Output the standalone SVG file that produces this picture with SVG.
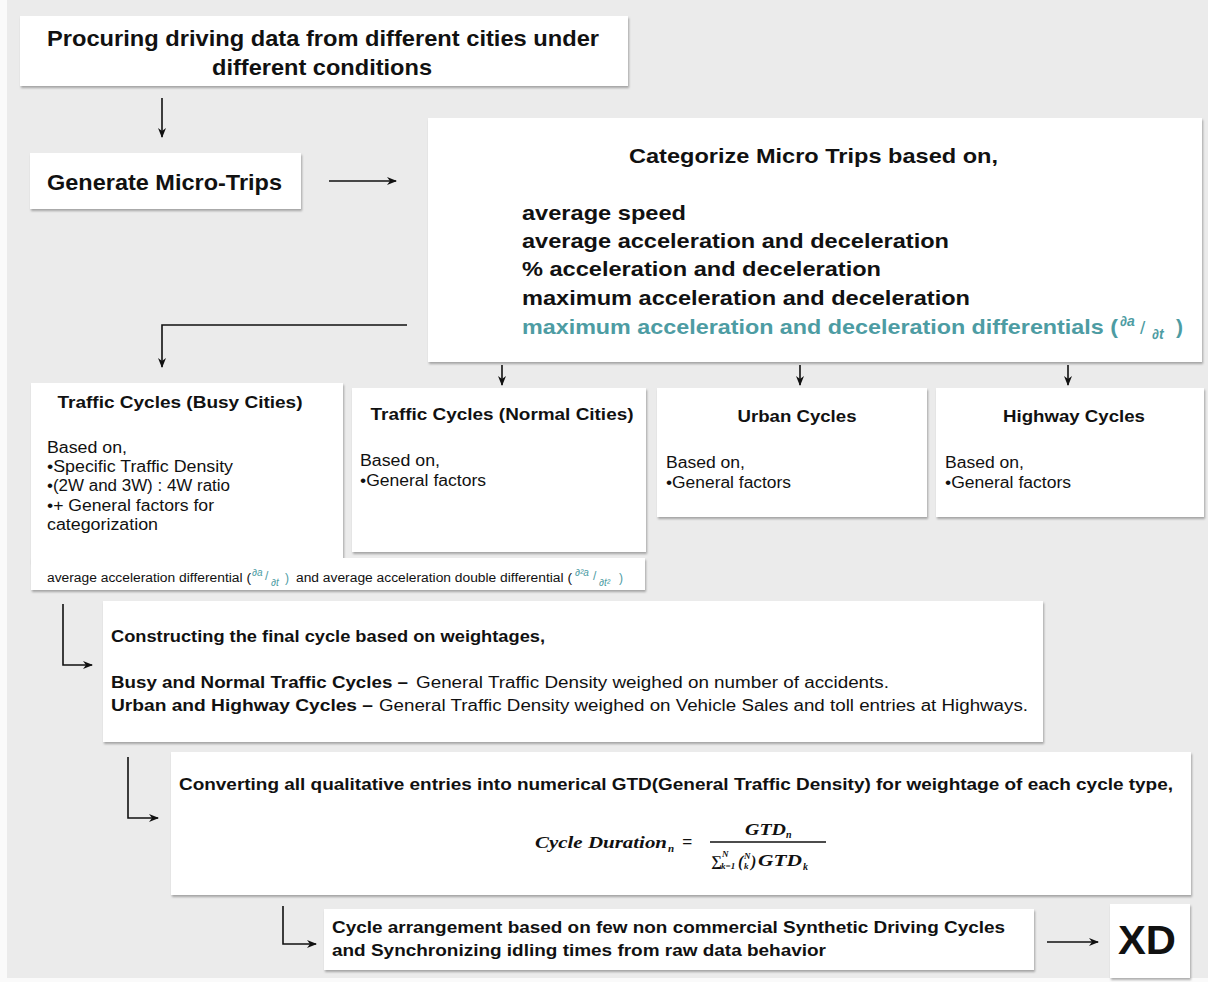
<svg xmlns="http://www.w3.org/2000/svg" width="1208" height="982" viewBox="0 0 1208 982">
<defs>
<filter id="sh" x="-5%" y="-5%" width="110%" height="115%">
<feDropShadow dx="1" dy="2" stdDeviation="1" flood-color="#000" flood-opacity="0.3"/>
</filter>
<marker id="ah" viewBox="0 0 10 10" refX="9" refY="5" markerWidth="10" markerHeight="10" markerUnits="userSpaceOnUse" orient="auto">
<path d="M0,1 L10,5 L0,9 L3,5 z" fill="#111"/>
</marker>
<style>
.box{fill:#fff;filter:url(#sh)}
.t{font-family:"Liberation Sans",Arial,sans-serif;fill:#111}
.b{font-weight:bold}
.i{font-style:italic}
.teal{fill:#4d9ca3}
.m{font-family:"Liberation Serif","DejaVu Serif",serif;font-style:italic;font-weight:bold;fill:#111}
.c{fill:none;stroke:#111;stroke-width:1.6;marker-end:url(#ah)}
</style>
</defs>
<rect x="0" y="0" width="1208" height="982" fill="#fafafa"/>
<rect x="7" y="0" width="1201" height="978" fill="#ebebeb"/>

<g id="n-procure">
<rect class="box" x="20" y="16" width="608" height="70"/>
<text class="t b" x="323" y="46" font-size="22" text-anchor="middle" textLength="552" lengthAdjust="spacingAndGlyphs">Procuring driving data from different cities under</text>
<text class="t b" x="322" y="75" font-size="22" text-anchor="middle" textLength="220" lengthAdjust="spacingAndGlyphs">different conditions</text>
</g>

<g id="n-generate">
<rect class="box" x="30" y="153" width="271" height="56"/>
<text class="t b" x="47" y="190" font-size="22" textLength="235" lengthAdjust="spacingAndGlyphs">Generate Micro-Trips</text>
</g>

<g id="n-categorize">
<rect class="box" x="428" y="118" width="774" height="244"/>
<text class="t b" x="629" y="163" font-size="21" textLength="369" lengthAdjust="spacingAndGlyphs">Categorize Micro Trips based on,</text>
<text class="t b" x="522" y="220" font-size="21" textLength="164" lengthAdjust="spacingAndGlyphs">average speed</text>
<text class="t b" x="522" y="248" font-size="21" textLength="427" lengthAdjust="spacingAndGlyphs">average acceleration and deceleration</text>
<text class="t b" x="522" y="276" font-size="21" textLength="359" lengthAdjust="spacingAndGlyphs">% acceleration and deceleration</text>
<text class="t b" x="522" y="305" font-size="21" textLength="448" lengthAdjust="spacingAndGlyphs">maximum acceleration and deceleration</text>
<text class="t b teal" x="522" y="334" font-size="21" textLength="596" lengthAdjust="spacingAndGlyphs">maximum acceleration and deceleration differentials (</text>
<text class="t b i teal" x="1120" y="326" font-size="14">∂a</text>
<text class="t teal" x="1140" y="334" font-size="19">/</text>
<text class="t b i teal" x="1152" y="339" font-size="14">∂t</text>
<text class="t b teal" x="1176" y="334" font-size="21">)</text>
</g>

<g id="n-busy">
<rect class="box" x="31" y="383" width="312" height="180"/>
<rect class="box" x="31" y="558" width="614" height="32"/>
<rect x="31" y="550" width="312" height="14" fill="#fff"/>
<text class="t b" x="180" y="408" font-size="17" text-anchor="middle" textLength="245" lengthAdjust="spacingAndGlyphs">Traffic Cycles (Busy Cities)</text>
<text class="t" x="47" y="453" font-size="16" textLength="80" lengthAdjust="spacingAndGlyphs">Based on,</text>
<text class="t" x="47" y="472" font-size="16" textLength="186" lengthAdjust="spacingAndGlyphs">•Specific Traffic Density</text>
<text class="t" x="47" y="491" font-size="16" textLength="183" lengthAdjust="spacingAndGlyphs">•(2W and 3W) : 4W ratio</text>
<text class="t" x="47" y="511" font-size="16" textLength="167" lengthAdjust="spacingAndGlyphs">•+ General factors for</text>
<text class="t" x="47" y="530" font-size="16" textLength="111" lengthAdjust="spacingAndGlyphs">categorization</text>
<text class="t" x="47" y="582" font-size="12" textLength="204" lengthAdjust="spacingAndGlyphs">average acceleration differential (</text>
<text class="t i teal" x="252" y="576" font-size="10">∂a</text>
<text class="t teal" x="265" y="580" font-size="12">/</text>
<text class="t i teal" x="271" y="586" font-size="10">∂t</text>
<text class="t teal" x="285" y="582" font-size="12">)</text>
<text class="t" x="296" y="582" font-size="12" textLength="276" lengthAdjust="spacingAndGlyphs">and average acceleration double differential (</text>
<text class="t i teal" x="575" y="576" font-size="10">∂²a</text>
<text class="t teal" x="593" y="580" font-size="12">/</text>
<text class="t i teal" x="599" y="586" font-size="10">∂t²</text>
<text class="t teal" x="619" y="582" font-size="12">)</text>
</g>

<g id="n-normal">
<rect class="box" x="352" y="388" width="294" height="164"/>
<text class="t b" x="502" y="420" font-size="17" text-anchor="middle" textLength="263" lengthAdjust="spacingAndGlyphs">Traffic Cycles (Normal Cities)</text>
<text class="t" x="360" y="466" font-size="16" textLength="80" lengthAdjust="spacingAndGlyphs">Based on,</text>
<text class="t" x="360" y="486" font-size="16" textLength="126" lengthAdjust="spacingAndGlyphs">•General factors</text>
</g>

<g id="n-urban">
<rect class="box" x="657" y="388" width="270" height="129"/>
<text class="t b" x="797" y="422" font-size="17" text-anchor="middle" textLength="119" lengthAdjust="spacingAndGlyphs">Urban Cycles</text>
<text class="t" x="666" y="468" font-size="16" textLength="79" lengthAdjust="spacingAndGlyphs">Based on,</text>
<text class="t" x="666" y="488" font-size="16" textLength="125" lengthAdjust="spacingAndGlyphs">•General factors</text>
</g>

<g id="n-highway">
<rect class="box" x="936" y="388" width="268" height="129"/>
<text class="t b" x="1074" y="422" font-size="17" text-anchor="middle" textLength="142" lengthAdjust="spacingAndGlyphs">Highway Cycles</text>
<text class="t" x="945" y="468" font-size="16" textLength="79" lengthAdjust="spacingAndGlyphs">Based on,</text>
<text class="t" x="945" y="488" font-size="16" textLength="126" lengthAdjust="spacingAndGlyphs">•General factors</text>
</g>

<g id="n-construct">
<rect class="box" x="103" y="601" width="940" height="141"/>
<text class="t b" x="111" y="642" font-size="16" textLength="434" lengthAdjust="spacingAndGlyphs">Constructing the final cycle based on weightages,</text>
<text class="t b" x="111" y="688" font-size="16" textLength="297" lengthAdjust="spacingAndGlyphs">Busy and Normal Traffic Cycles –</text>
<text class="t" x="416" y="688" font-size="16" textLength="473" lengthAdjust="spacingAndGlyphs">General Traffic Density weighed on number of accidents.</text>
<text class="t b" x="111" y="711" font-size="16" textLength="262" lengthAdjust="spacingAndGlyphs">Urban and Highway Cycles –</text>
<text class="t" x="379" y="711" font-size="16" textLength="649" lengthAdjust="spacingAndGlyphs">General Traffic Density weighed on Vehicle Sales and toll entries at Highways.</text>
</g>

<g id="n-convert">
<rect class="box" x="171" y="752" width="1020" height="143"/>
<text class="t b" x="179" y="790" font-size="16" textLength="994" lengthAdjust="spacingAndGlyphs">Converting all qualitative entries into numerical GTD(General Traffic Density) for weightage of each cycle type,</text>
<text class="m" x="535" y="848" font-size="17" textLength="132" lengthAdjust="spacingAndGlyphs">Cycle Duration</text>
<text class="m" x="668" y="852" font-size="11">n</text>
<text class="m" x="682" y="848" font-size="18" font-style="normal">=</text>
<line x1="710" y1="842" x2="826" y2="842" stroke="#111" stroke-width="1.3"/>
<text class="m" x="745" y="835" font-size="17" textLength="41" lengthAdjust="spacingAndGlyphs">GTD</text>
<text class="m" x="786" y="838" font-size="10">n</text>
<text class="m" x="711" y="866" font-size="15" font-style="normal">∑</text>
<text class="m" x="722" y="857" font-size="9">N</text>
<text class="m" x="721" y="869" font-size="9">k=1</text>
<text class="m" x="738" y="867" font-size="16" font-style="normal" font-weight="normal">(</text>
<text class="m" x="744" y="859" font-size="9">N</text>
<text class="m" x="744" y="869" font-size="9">k</text>
<text class="m" x="751" y="867" font-size="16" font-style="normal" font-weight="normal">)</text>
<text class="m" x="758" y="866" font-size="17" textLength="44" lengthAdjust="spacingAndGlyphs">GTD</text>
<text class="m" x="803" y="870" font-size="10">k</text>
</g>

<g id="n-arrange">
<rect class="box" x="324" y="909" width="710" height="61"/>
<text class="t b" x="332" y="933" font-size="16" textLength="673" lengthAdjust="spacingAndGlyphs">Cycle arrangement based on few non commercial Synthetic Driving Cycles</text>
<text class="t b" x="332" y="956" font-size="16" textLength="494" lengthAdjust="spacingAndGlyphs">and Synchronizing idling times from raw data behavior</text>
</g>

<g id="n-xd">
<rect class="box" x="1110" y="904" width="80" height="74"/>
<text class="t b" x="1147" y="954" font-size="40" text-anchor="middle" textLength="58" lengthAdjust="spacingAndGlyphs">XD</text>
</g>

<g id="connectors">
<path class="c" d="M162,98 V137"/>
<path class="c" d="M329,181 H396"/>
<path class="c" d="M407,325 H162 V367"/>
<path class="c" d="M502,365 V385"/>
<path class="c" d="M800,365 V385"/>
<path class="c" d="M1068,365 V385"/>
<path class="c" d="M63,604 V665 H92"/>
<path class="c" d="M128,757 V818 H158"/>
<path class="c" d="M283,906 V944 H316"/>
<path class="c" d="M1047,942 H1098"/>
</g>
</svg>
